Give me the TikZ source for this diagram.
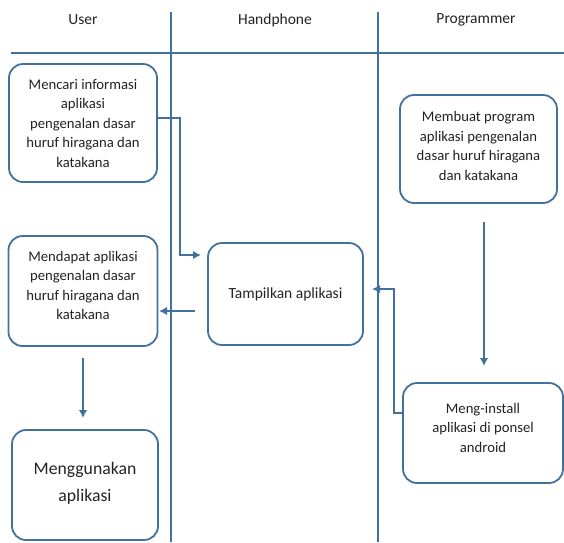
\documentclass[tikz,border=0pt]{standalone}
\usepackage{fontspec}
\setmainfont{Carlito}
\usetikzlibrary{arrows.meta}
\definecolor{lane}{HTML}{41719C}
\definecolor{txt}{HTML}{222222}
\begin{document}
\begin{tikzpicture}[x=1pt,y=-1pt,
  box/.style={draw=lane,line width=1.8pt,rounded corners=14pt,align=center,
    inner sep=2pt,text=txt,font=\fontsize{14.7}{19.5}\selectfont},
  lanes/.style={draw=lane,line width=1.8pt},
  arr/.style={draw=lane,line width=1.7pt,-{Latex[length=8pt,width=8.5pt]}},
  head/.style={text=txt,font=\fontsize{15.5}{18}\selectfont}]
\useasboundingbox (0,0) rectangle (564,542);
% lanes
\draw[lanes] (11,53) -- (564,53);
\draw[lanes] (171,12) -- (171,542);
\draw[lanes] (378,12) -- (378,542);
\node[head] (hu) at (83,20) {User};
\node[head] (hh) at (275,20) {Handphone};
\node[head] (hp) at (476,20) {Programmer};
% boxes
\node[box,minimum width=148pt,minimum height=118pt] (b1) at (83,123)
  {Mencari informasi\\aplikasi\\pengenalan dasar\\huruf hiragana dan\\katakana};
\node[box,minimum width=149pt,minimum height=110pt] (b2) at (83,291)
  {Mendapat aplikasi\\pengenalan dasar\\huruf hiragana dan\\katakana\\[-8pt]};
\node[box,minimum width=146pt,minimum height=110pt,font=\fontsize{17.7}{27}\selectfont] (b3) at (85,485)
  {Menggunakan\\aplikasi\\[-21pt]};
\node[box,minimum width=155pt,minimum height=102pt,font=\fontsize{15.5}{19.5}\selectfont] (tp) at (285.5,294)
  {Tampilkan aplikasi};
\node[box,minimum width=157pt,minimum height=108pt] (b4) at (478.5,149)
  {Membuat program\\aplikasi pengenalan\\dasar huruf hiragana\\dan katakana\\[-13pt]};
\node[box,minimum width=160pt,minimum height=100pt] (b5) at (483,433)
  {Meng-install\\aplikasi di ponsel\\android\\[-9pt]};
% connector points
\coordinate (a1) at (180,118);
\coordinate (a2) at (180,255);
\coordinate (a3) at (201,255);
\coordinate (t1) at (195,311);
\coordinate (t2) at (159,311);
\coordinate (d1) at (83,358);
\coordinate (d2) at (83,418);
\coordinate (p1) at (484,222);
\coordinate (p2) at (484,366);
\coordinate (q1) at (394,413);
\coordinate (q2) at (394,289);
\coordinate (q3) at (372,289);
% connectors
\draw[arr] (b1.east |- a1) -- (a1) -- (a2) -- (a3);
\draw[arr] (t1) -- (t2);
\draw[arr] (d1) -- (d2);
\draw[arr] (p1) -- (p2);
\draw[arr] (b5.west |- q1) -- (q1) -- (q2) -- (q3);
\end{tikzpicture}
\end{document}
